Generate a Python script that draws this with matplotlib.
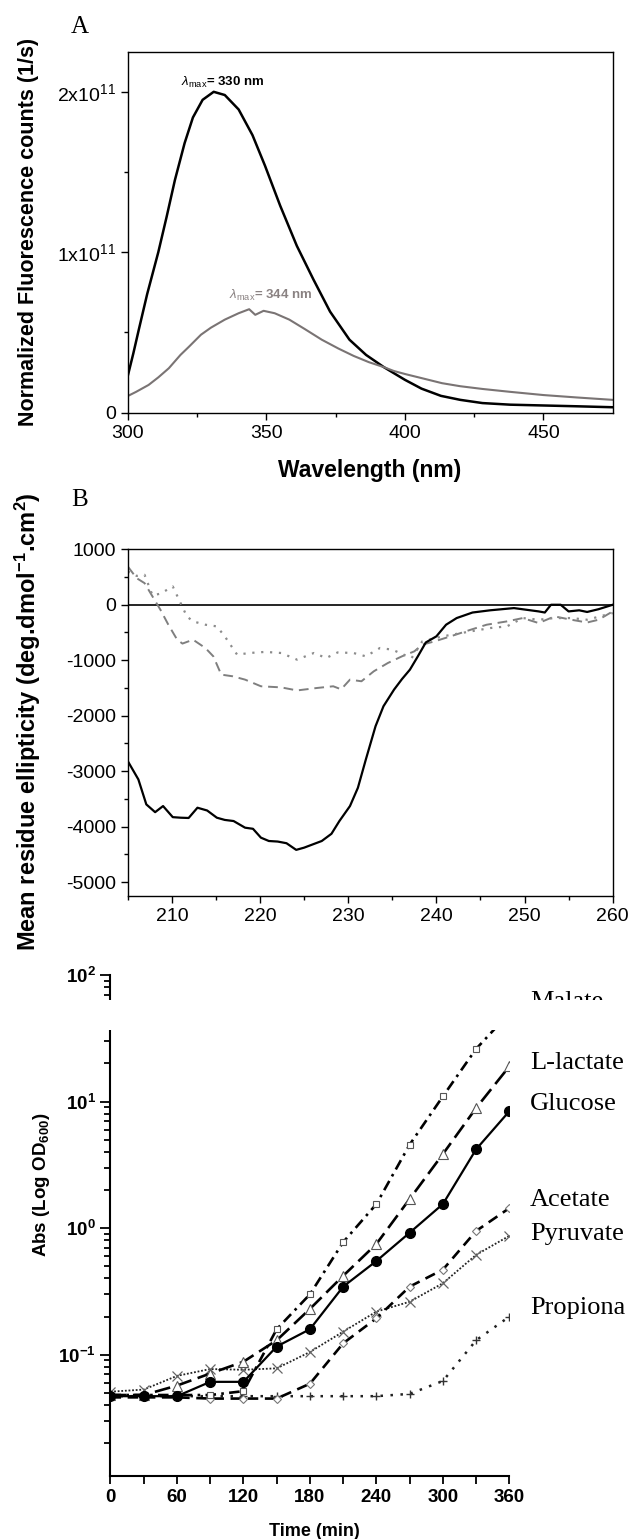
import matplotlib
matplotlib.use("Agg")
import matplotlib.pyplot as plt
from matplotlib.patches import Rectangle
from matplotlib.ticker import FixedLocator, NullFormatter, LogLocator

plt.rcParams['font.family'] = ['Liberation Sans', 'DejaVu Sans']
plt.rcParams['axes.unicode_minus'] = False
plt.rcParams['mathtext.fontset'] = 'custom'
plt.rcParams['mathtext.rm'] = 'Liberation Sans'
plt.rcParams['mathtext.it'] = 'Liberation Sans:italic'
plt.rcParams['mathtext.bf'] = 'Liberation Sans:bold'

# ---------------- Panel A data: fluorescence emission ----------------
wl_a_black = [300, 302, 304, 307, 311, 314, 317, 320.5, 323.5, 327, 331, 335, 340, 345,
              349.5, 355, 361, 367, 373, 380, 386, 392.4, 400, 406, 413, 420, 428, 438,
              450, 462, 475]
fl_black = [0.23, 0.37, 0.52, 0.74, 1.00, 1.22, 1.45, 1.68, 1.84, 1.95, 2.00, 1.98, 1.89, 1.73,
            1.54, 1.29, 1.04, 0.83, 0.63, 0.455, 0.36, 0.284, 0.205, 0.15, 0.105, 0.08, 0.06,
            0.05, 0.045, 0.04, 0.034]
wl_a_gray = [300, 303, 307.5, 311, 314.8, 319, 322, 326.4, 330, 335, 340, 343.8, 346, 349,
             353, 358.3, 364, 370, 376, 381.5, 387, 392.4, 396, 400.3, 405, 413.4, 420, 428,
             438, 450, 462, 475]
fl_gray = [0.104, 0.13, 0.173, 0.22, 0.277, 0.36, 0.41, 0.486, 0.53, 0.58, 0.62, 0.645, 0.61,
           0.635, 0.62, 0.58, 0.52, 0.455, 0.40, 0.354, 0.315, 0.284, 0.26, 0.24, 0.22, 0.184,
           0.165, 0.148, 0.13, 0.11, 0.095, 0.08]
fl_scale = 1e11
a_yticks = [0, 1e11, 2e11]
a_yticklabels = ['0', r'1x10$^{11}$', r'2x10$^{11}$']
a_xticks = [300, 350, 400, 450]

# ---------------- Panel B data: CD spectra ----------------
wl_b_black = [205, 206.2, 207.1, 208.1, 209.0, 210.1, 211.0, 211.9, 212.9, 214.0, 215.1, 216.0,
              217.0, 218.3, 219.2, 220.1, 221.0, 222.0, 223.0, 224.1, 225.0, 226.0, 227.0, 228.1,
              229.0, 230.2, 231.1, 232.0, 233.1, 234.0, 235.2, 236.1, 237.0, 237.9, 238.8, 240.0,
              241.1, 242.3, 244.1, 246.1, 248.8, 251.6, 252.3, 253.0, 254.1, 255.0, 256.2, 257.1,
              258.4, 260]
cd_black = [-2820, -3150, -3600, -3740, -3630, -3830, -3840, -3845, -3660, -3710, -3840, -3880,
            -3900, -4020, -4040, -4200, -4260, -4270, -4300, -4420, -4380, -4320, -4260, -4130,
            -3900, -3630, -3300, -2790, -2190, -1830, -1530, -1340, -1170, -930, -680, -570,
            -360, -240, -140, -100, -60, -120, -140, 0, 0, -120, -100, -130, -80, 0]
wl_b_dash = [205, 206.0, 206.9, 207.8, 208.7, 209.6, 210.6, 211.2, 212.4, 213.8, 214.7, 215.6,
             216.9, 218.3, 220.1, 222.4, 224.2, 226.5, 228.3, 229.2, 230.2, 231.5, 232.9, 234.5,
             236.1, 237.5, 238.4, 239.8, 241.6, 243.9, 245.7, 248.0, 249.8, 251.6, 253.4, 255.3,
             257.1, 258.4, 260]
cd_dash = [690, 480, 390, 150, -90, -360, -630, -700, -630, -780, -930, -1260, -1290, -1350,
           -1470, -1490, -1545, -1500, -1470, -1525, -1350, -1380, -1200, -1050, -930, -840,
           -720, -660, -570, -450, -360, -300, -240, -330, -210, -270, -320, -270, -120]
wl_b_dot = [205, 206.0, 206.9, 207.8, 208.7, 210.1, 211.7, 212.4, 213.8, 215.1, 216.0, 217.4,
            218.8, 220.6, 222.4, 224.2, 226.1, 227.5, 228.8, 230.6, 232.0, 233.6, 235.0, 236.3,
            237.2, 238.4, 240.7, 243.9, 246.1, 248.0, 249.8, 251.6, 253.4, 255.3, 257.1, 260]
cd_dot = [600, 520, 540, 170, 200, 330, -210, -300, -360, -390, -570, -900, -870, -850, -870,
          -990, -870, -960, -860, -870, -930, -780, -810, -900, -960, -660, -570, -480, -420,
          -390, -240, -270, -240, -240, -270, -150]
b_yticks = [1000, 0, -1000, -2000, -3000, -4000, -5000]
b_xticks = [210, 220, 230, 240, 250, 260]

# ---------------- Panel C data: growth curves ----------------
time_min = [0, 30, 60, 90, 120, 150, 180, 210, 240, 270, 300, 330, 360]
malate = [0.048, 0.048, 0.048, 0.048, 0.0515, 0.159, 0.30, 0.775, 1.55, 4.57, 11.0, 26.1, 50.0]
lactate = [0.048, 0.048, 0.057, 0.071, 0.088, 0.13, 0.23, 0.42, 0.75, 1.70, 3.85, 8.9, 19.0]
glucose = [0.047, 0.047, 0.047, 0.061, 0.061, 0.116, 0.159, 0.345, 0.55, 0.92, 1.55, 4.2, 8.4]
acetate = [0.046, 0.046, 0.046, 0.045, 0.045, 0.045, 0.059, 0.123, 0.194, 0.345, 0.47, 0.95, 1.44]
pyruvate = [0.051, 0.053, 0.068, 0.077, 0.076, 0.078, 0.105, 0.152, 0.219, 0.262, 0.367, 0.615, 0.87]
propionate = [0.047, 0.047, 0.047, 0.047, 0.047, 0.047, 0.047, 0.047, 0.047, 0.049, 0.062, 0.13, 0.20]
# labels as they appear in the (cropped) composite figure
series_names = ['Malate', 'L-lactate', 'Glucose', 'Acetate', 'Pyruvate', 'Propiona']
c_xticks = [0, 60, 120, 180, 240, 300, 360]
c_yticks = [0.1, 1, 10, 100]
c_yticklabels = [r'$\mathbf{10^{-1}}$', r'$\mathbf{10^{0}}$', r'$\mathbf{10^{1}}$', r'$\mathbf{10^{2}}$']

W, H = 630, 1539
fig = plt.figure(figsize=(W / 100, H / 100), dpi=100)


def fx(px):
    return px / W


def fy(py):
    return 1 - py / H


def box(l, t, r, b):
    return [fx(l), fy(b), fx(r) - fx(l), fy(t) - fy(b)]


# ---------------- Panel A ----------------
axA = fig.add_axes(box(127.8, 51.7, 612.7, 412.7))
axA.plot(wl_a_black, [v * fl_scale for v in fl_black], color='black', lw=1.8)
axA.plot(wl_a_gray, [v * fl_scale for v in fl_gray], color='#7a7474', lw=1.5)
axA.set_xlim(300, 475)
axA.set_ylim(0, 2.25e11)
axA.set_yticks(a_yticks)
axA.set_yticklabels(a_yticklabels)
axA.yaxis.set_minor_locator(FixedLocator([0.5e11, 1.5e11]))
axA.set_xticks(a_xticks)
axA.xaxis.set_minor_locator(FixedLocator([325, 375, 425]))
axA.tick_params(which='both', direction='out', labelsize=14, width=1.0, top=False, right=False)
axA.tick_params(which='major', length=5)
axA.tick_params(which='minor', length=3)
for s in axA.spines.values():
    s.set_linewidth(1.0)
axA.text(319.2, 2.06e11, r'$\lambda_{\mathrm{max}}$= 330 nm', fontsize=9.5, fontweight='bold',
         ha='left', va='center', color='black')
axA.text(336.6, 0.73e11, r'$\lambda_{\mathrm{max}}$= 344 nm', fontsize=9.5, fontweight='bold',
         ha='left', va='center', color='#8a8282')
fig.text(fx(80), fy(27), 'A', fontsize=18, family='Liberation Serif', ha='center', va='center')
fig.text(fx(29), fy(232), 'Normalized Fluorescence counts (1/s)', rotation=90, fontsize=15.5,
         fontweight='bold', ha='center', va='center')
fig.text(fx(370), fy(470), 'Wavelength (nm)', fontsize=16.5, fontweight='bold',
         ha='center', va='center')

# ---------------- Panel B ----------------
axB = fig.add_axes(box(127.8, 549.3, 612.7, 895.9))
axB.axhline(0, color='black', lw=1.2)
axB.plot(wl_b_dash, cd_dash, color='#7f7f7f', lw=1.4, linestyle=(0, (5, 3)))
axB.plot(wl_b_dot, cd_dot, color='#8c8c8c', lw=1.6, linestyle=(0, (1, 3)))
axB.plot(wl_b_black, cd_black, color='black', lw=1.6)
axB.set_xlim(205, 260)
axB.set_ylim(-5250, 1000)
axB.set_yticks(b_yticks)
axB.yaxis.set_minor_locator(FixedLocator([500, -500, -1500, -2500, -3500, -4500]))
axB.set_xticks(b_xticks)
axB.xaxis.set_minor_locator(FixedLocator([205, 215, 225, 235, 245, 255]))
axB.tick_params(which='both', direction='out', labelsize=14, width=1.0, top=False, right=False)
axB.tick_params(which='major', length=5)
axB.tick_params(which='minor', length=3)
for s in axB.spines.values():
    s.set_linewidth(1.0)
fig.text(fx(80), fy(500), 'B', fontsize=18, family='Liberation Serif', ha='center', va='center')
fig.text(fx(28), fy(722), r'Mean residue ellipticity (deg.dmol$^{\mathbf{-1}}$.cm$^{\mathbf{2}}$)',
         rotation=90, fontsize=17, fontweight='bold', ha='center', va='center')

# ---------------- Panel C ----------------
axC = fig.add_axes(box(110.5, 975, 509.4, 1476))
axC.set_yscale('log')
axC.plot(time_min, propionate, color='#222222', lw=1.8, linestyle=(0, (1, 3)),
         marker='+', ms=6, mec='#333333', mew=1.0)
axC.plot(time_min, pyruvate, color='#222222', lw=1.3, linestyle=(0, (1, 1)),
         marker='x', ms=6.5, mec='#666666', mew=0.9)
axC.plot(time_min, acetate, color='black', lw=1.9, linestyle=(0, (4, 2.5)),
         marker='D', ms=4.5, mfc='white', mec='#777777', mew=0.8)
axC.plot(time_min, malate, color='black', lw=1.9, linestyle=(0, (4, 2, 1, 2)),
         marker='s', ms=4, mfc='white', mec='#555555', mew=0.8)
axC.plot(time_min, lactate, color='black', lw=1.9, linestyle=(0, (6, 2.5)),
         marker='^', ms=6.5, mfc='white', mec='#555555', mew=0.8)
axC.plot(time_min, glucose, color='black', lw=1.6, linestyle='-',
         marker='o', ms=7, mfc='black', mec='black')
axC.set_xlim(0, 360)
axC.set_ylim(0.011, 100)
axC.set_xticks(c_xticks)
axC.xaxis.set_minor_locator(FixedLocator([30, 90, 150, 210, 270, 330]))
axC.set_yticks(c_yticks)
axC.set_yticklabels(c_yticklabels)
axC.yaxis.set_minor_locator(LogLocator(base=10, subs=[2, 3, 4, 5, 6, 7, 8, 9]))
axC.yaxis.set_minor_formatter(NullFormatter())
axC.spines['top'].set_visible(False)
axC.spines['right'].set_visible(False)
for s in ['left', 'bottom']:
    axC.spines[s].set_linewidth(1.5)
axC.tick_params(which='both', direction='out', width=1.3)
axC.tick_params(axis='x', which='both', length=6, labelsize=13.5)
axC.tick_params(axis='y', which='major', length=7, labelsize=13.5)
axC.tick_params(axis='y', which='minor', length=4)
for lab in axC.get_xticklabels():
    lab.set_fontweight('bold')

label_y = [1002, 1063, 1104, 1200, 1234, 1308]
for name, ly in zip(series_names, label_y):
    fig.text(fx(530), fy(ly), name, fontsize=19, family='Liberation Serif',
             ha='left', va='center')

fig.text(fx(42), fy(1185), r'Abs (Log OD$_{\mathbf{600}}$)', rotation=90, fontsize=13.5,
         fontweight='bold', ha='center', va='center')
fig.text(fx(314), fy(1532), 'Time (min)', fontsize=13, fontweight='bold',
         ha='center', va='center')

# white band hiding part of panel C (as in the composite figure)
fig.add_artist(Rectangle((0, fy(1030)), 1, fy(1000) - fy(1030), transform=fig.transFigure,
                         facecolor='white', edgecolor='none', zorder=20))

fig.savefig('out.png', dpi=100)
